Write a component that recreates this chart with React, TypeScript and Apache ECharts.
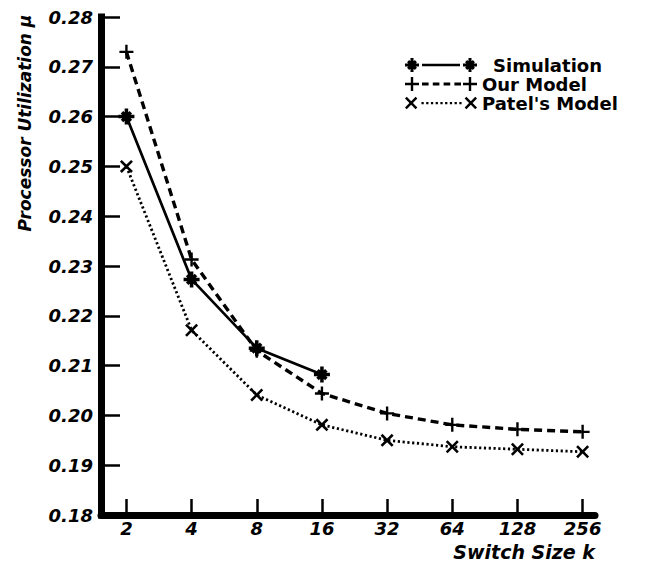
import React, { useEffect, useRef } from "react";
import * as echarts from "echarts";

// ---- data ----
const switchSizes = ["2", "4", "8", "16", "32", "64", "128", "256"];
const simulation = [0.26, 0.2273, 0.2135, 0.2082];
const ourModel = [0.273, 0.2313, 0.213, 0.2044, 0.2004, 0.1981, 0.1972, 0.1967];
const patelModel = [0.25, 0.2171, 0.2041, 0.1981, 0.195, 0.1937, 0.1932, 0.1927];
const seriesNames = ["Simulation", "Our Model", "Patel's Model"];
const yMin = 0.18;
const yMax = 0.28;
const yStep = 0.01;

// ---- marker shapes (filled outlines) ----
const n = (v: number) => +v.toFixed(3);
function plusPath(cx: number, cy: number, r: number, t: number) {
  const h = t / 2;
  return `M${n(cx - h)},${n(cy - r)}H${n(cx + h)}V${n(cy - h)}H${n(cx + r)}V${n(cy + h)}H${n(cx + h)}V${n(cy + r)}H${n(cx - h)}V${n(cy + h)}H${n(cx - r)}V${n(cy - h)}H${n(cx - h)}Z`;
}
function crossPath(cx: number, cy: number, r: number, t: number) {
  const c = t / Math.SQRT2;
  const pts = [
    [-r, -r + c], [-r + c, -r], [0, -c], [r - c, -r], [r, -r + c], [c, 0],
    [r, r - c], [r - c, r], [0, c], [-r + c, r], [-r, r - c], [-c, 0],
  ];
  return "M" + pts.map(([x, y]) => `${n(cx + x)},${n(cy + y)}`).join("L") + "Z";
}
function asteriskPath(cx: number, cy: number, r: number, t: number) {
  return plusPath(cx, cy, r, t) + crossPath(cx, cy, r * 0.7071, t);
}
function rectPath(x: number, y: number, w: number, h: number) {
  return `M${n(x)},${n(y)}h${n(w)}v${n(h)}h${n(-w)}Z`;
}

const symAsterisk = "path://" + asteriskPath(10, 10, 10, 4.4);
const symPlus = "path://" + plusPath(10, 10, 10, 3.4);
const symCross = "path://" + crossPath(10, 10, 10, 4);

function legendSolid() {
  return "path://" + asteriskPath(7, 7, 7, 3) + rectPath(17, 5.7, 38, 2.6) + asteriskPath(65, 7, 7, 3);
}
function legendDashed() {
  let p = plusPath(7, 7, 7, 2.4) + plusPath(65, 7, 7, 2.4);
  for (let k = 0; k < 4; k++) p += rectPath(17 + k * 10.8, 5.6, 6.6, 2.8);
  return "path://" + p;
}
function legendDotted() {
  let p = crossPath(7, 7, 6, 2.4) + crossPath(65, 7, 6, 2.4);
  for (let k = 0; k < 9; k++) p += rectPath(17 + k * 4.6, 6, 2.2, 2.2);
  return "path://" + p;
}

const FONT = '"DejaVu Sans", "Liberation Sans", Arial, sans-serif';

export default function App() {
  const ref = useRef<HTMLDivElement>(null);

  useEffect(() => {
    if (!ref.current) return;
    const chart = echarts.init(ref.current, undefined, { renderer: "svg" });
    const xIdx = switchSizes.map((_, i) => i);

    const option: any = {
      animation: false,
      backgroundColor: "#fff",
      color: ["#000", "#000", "#000"],
      grid: { left: 101, right: 52, top: 17, bottom: 60, containLabel: false, outerBoundsMode: "none" },
      legend: {
        orient: "vertical",
        left: 405,
        top: 56,
        padding: 0,
        itemWidth: 72,
        itemHeight: 14,
        itemGap: 1,
        selectedMode: false,
        itemStyle: { borderWidth: 0 },
        textStyle: { fontFamily: FONT, fontSize: 18, fontWeight: "bold", color: "#000" },
        data: [
          { name: seriesNames[0], icon: legendSolid(), textStyle: { padding: [0, 0, 0, 11] } },
          { name: seriesNames[1], icon: legendDashed() },
          { name: seriesNames[2], icon: legendDotted() },
        ],
      },
      xAxis: {
        type: "value",
        min: -0.39,
        max: 7.19,
        axisLine: { show: true, onZero: false, lineStyle: { color: "#000", width: 7 } },
        axisTick: {
          show: true,
          inside: true,
          length: 16,
          customValues: xIdx,
          lineStyle: { color: "#000", width: 2.5 },
        },
        axisLabel: {
          customValues: xIdx,
          formatter: (v: number) => switchSizes[Math.round(v)] ?? "",
          margin: 4,
          color: "#000",
          fontFamily: FONT,
          fontSize: 18,
          fontWeight: "bold",
          fontStyle: "italic",
        },
        splitLine: { show: false },
      },
      yAxis: {
        type: "value",
        min: yMin,
        max: yMax,
        interval: yStep,
        axisLine: { show: true, onZero: false, lineStyle: { color: "#000", width: 7, cap: "square" } },
        axisTick: { show: true, inside: true, length: 19, lineStyle: { color: "#000", width: 2.5 } },
        axisLabel: {
          formatter: (v: number) => v.toFixed(2),
          margin: 8,
          color: "#000",
          fontFamily: FONT,
          fontSize: 18,
          fontWeight: "bold",
          fontStyle: "italic",
        },
        splitLine: { show: false },
      },
      graphic: [
        {
          type: "text",
          x: 25,
          y: 123,
          rotation: Math.PI / 2,
          silent: true,
          style: {
            text: "Processor Utilization \u03bc",
            fill: "#000",
            font: `italic bold 17px ${FONT}`,
            textAlign: "center",
            align: "center",
            textVerticalAlign: "middle",
            verticalAlign: "middle",
          },
        },
        {
          type: "text",
          x: 595,
          y: 552,
          silent: true,
          style: {
            text: "Switch Size k",
            fill: "#000",
            font: `italic bold 19px ${FONT}`,
            textAlign: "right",
            align: "right",
            textVerticalAlign: "middle",
            verticalAlign: "middle",
          },
        },
      ],
      series: [
        {
          name: seriesNames[2],
          type: "line",
          data: patelModel.map((v, i) => [i, v]),
          symbol: symCross,
          symbolSize: 13,
          itemStyle: { color: "#000", borderWidth: 0 },
          lineStyle: { color: "#000", width: 2.8, type: [2.2, 2.6] },
          emphasis: { disabled: true },
          z: 2,
        },
        {
          name: seriesNames[1],
          type: "line",
          data: ourModel.map((v, i) => [i, v]),
          symbol: symPlus,
          symbolSize: 14,
          itemStyle: { color: "#000", borderWidth: 0 },
          lineStyle: { color: "#000", width: 3.4, type: [8, 5] },
          emphasis: { disabled: true },
          z: 3,
        },
        {
          name: seriesNames[0],
          type: "line",
          data: simulation.map((v, i) => [i, v]),
          symbol: symAsterisk,
          symbolSize: 16,
          itemStyle: { color: "#000", borderWidth: 0 },
          lineStyle: { color: "#000", width: 2.7, type: "solid" },
          emphasis: { disabled: true },
          z: 4,
        },
      ],
    };

    chart.setOption(option);
    return () => chart.dispose();
  }, []);

  return (
    <div
      ref={ref}
      style={{ position: "fixed", left: 0, top: 0, width: 647, height: 575, background: "#fff" }}
    />
  );
}
